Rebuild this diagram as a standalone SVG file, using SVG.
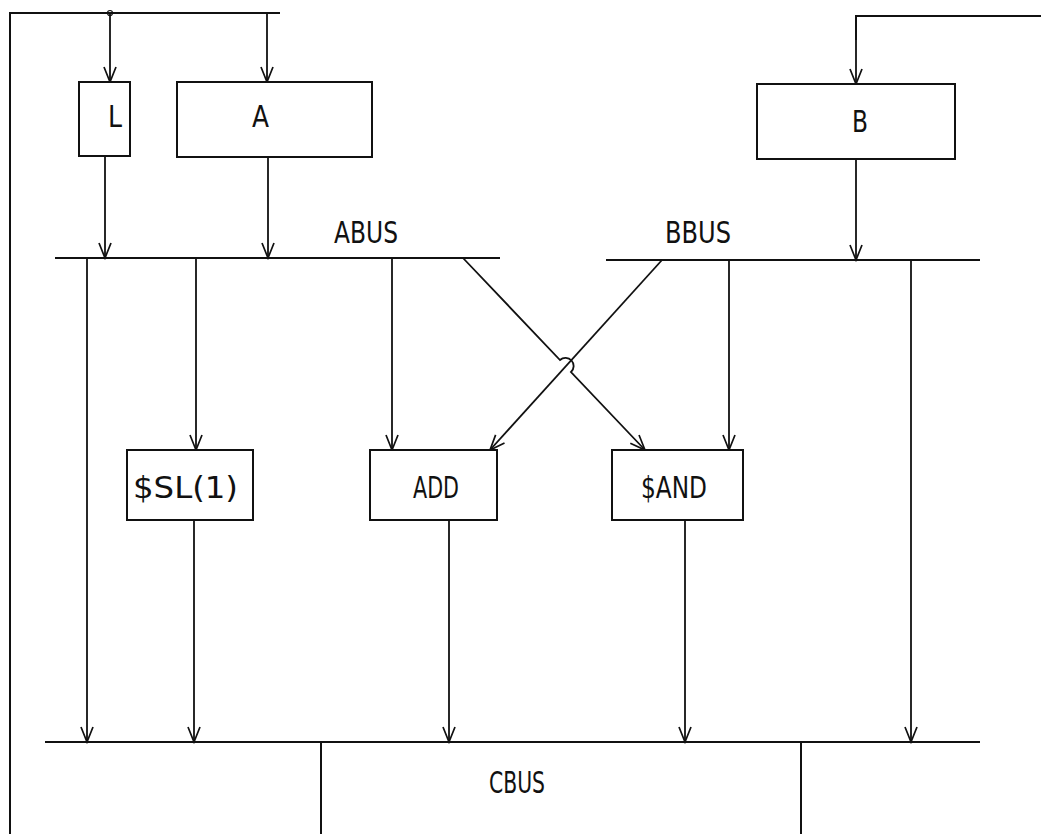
<svg xmlns="http://www.w3.org/2000/svg" width="1041" height="834" viewBox="0 0 1041 834">
<defs>
<marker id="v" viewBox="0 0 20 20" refX="18" refY="10" markerWidth="20" markerHeight="20" markerUnits="userSpaceOnUse" orient="auto">
<polyline points="3,4 18,10 3,16" fill="none" stroke="#111" stroke-width="1.7"/>
</marker>
<style>
.ln{fill:none;stroke:#111;stroke-width:2}
.ar{fill:none;stroke:#111;stroke-width:1.8;marker-end:url(#v)}
.bx{fill:#fff;stroke:#111;stroke-width:2}
.t{font-family:"DejaVu Sans Condensed","DejaVu Sans",sans-serif;font-size:31px;fill:#111}
</style>
</defs>
<rect width="1041" height="834" fill="#fff"/>
<g id="connectors">
<polyline class="ln" points="10,834 10,13 280,13"/>
<circle cx="110" cy="13" r="2.5" fill="none" stroke="#111" stroke-width="1.2"/>
<line class="ar" x1="110" y1="13" x2="110" y2="82"/>
<line class="ar" x1="267" y1="13" x2="267" y2="82"/>
<polyline class="ln" points="1041,16 856,16 856,40"/>
<line class="ar" x1="856" y1="40" x2="856" y2="84"/>
<line class="ar" x1="105" y1="157" x2="105" y2="258"/>
<line class="ar" x1="268" y1="157" x2="268" y2="258"/>
<line class="ar" x1="856" y1="159" x2="856" y2="260"/>
<line class="ln" x1="55" y1="258" x2="500" y2="258"/>
<line class="ln" x1="606" y1="260" x2="980" y2="260"/>
<line class="ar" x1="87" y1="258" x2="87" y2="742"/>
<line class="ar" x1="196" y1="258" x2="196" y2="450"/>
<line class="ar" x1="392" y1="258" x2="392" y2="450"/>
<line class="ar" x1="729" y1="260" x2="729" y2="450"/>
<line class="ar" x1="911" y1="260" x2="911" y2="742"/>
<line class="ar" x1="662" y1="260" x2="490" y2="450"/>
<path class="ar" d="M463,258 L560,360 A8,8 0 0 1 571,372 L645,450"/>
<line class="ar" x1="194" y1="520" x2="194" y2="742"/>
<line class="ar" x1="449" y1="520" x2="449" y2="742"/>
<line class="ar" x1="685" y1="520" x2="685" y2="742"/>
<line class="ln" x1="45" y1="742" x2="980" y2="742"/>
<line class="ln" x1="321" y1="742" x2="321" y2="834"/>
<line class="ln" x1="801" y1="742" x2="801" y2="834"/>
</g>
<g id="L"><rect class="bx" x="79" y="82" width="51" height="74"/><text class="t" x="108" y="127" textLength="14" lengthAdjust="spacingAndGlyphs">L</text></g>
<g id="A"><rect class="bx" x="177" y="82" width="195" height="75"/><text class="t" x="252" y="127" textLength="17" lengthAdjust="spacingAndGlyphs">A</text></g>
<g id="B"><rect class="bx" x="757" y="84" width="198" height="75"/><text class="t" x="852" y="132" textLength="16" lengthAdjust="spacingAndGlyphs">B</text></g>
<g id="SL"><rect class="bx" x="127" y="450" width="126" height="70"/><text class="t" x="133" y="498" textLength="105" lengthAdjust="spacingAndGlyphs">$SL(1)</text></g>
<g id="ADD"><rect class="bx" x="370" y="450" width="127" height="70"/><text class="t" x="413" y="498" textLength="46" lengthAdjust="spacingAndGlyphs">ADD</text></g>
<g id="AND"><rect class="bx" x="612" y="450" width="131" height="70"/><text class="t" x="641" y="498" textLength="66" lengthAdjust="spacingAndGlyphs">$AND</text></g>
<g id="labels">
<text class="t" x="334" y="243" textLength="64" lengthAdjust="spacingAndGlyphs">ABUS</text>
<text class="t" x="665" y="243" textLength="66" lengthAdjust="spacingAndGlyphs">BBUS</text>
<text class="t" x="489" y="793" textLength="56" lengthAdjust="spacingAndGlyphs">CBUS</text>
</g>
</svg>
